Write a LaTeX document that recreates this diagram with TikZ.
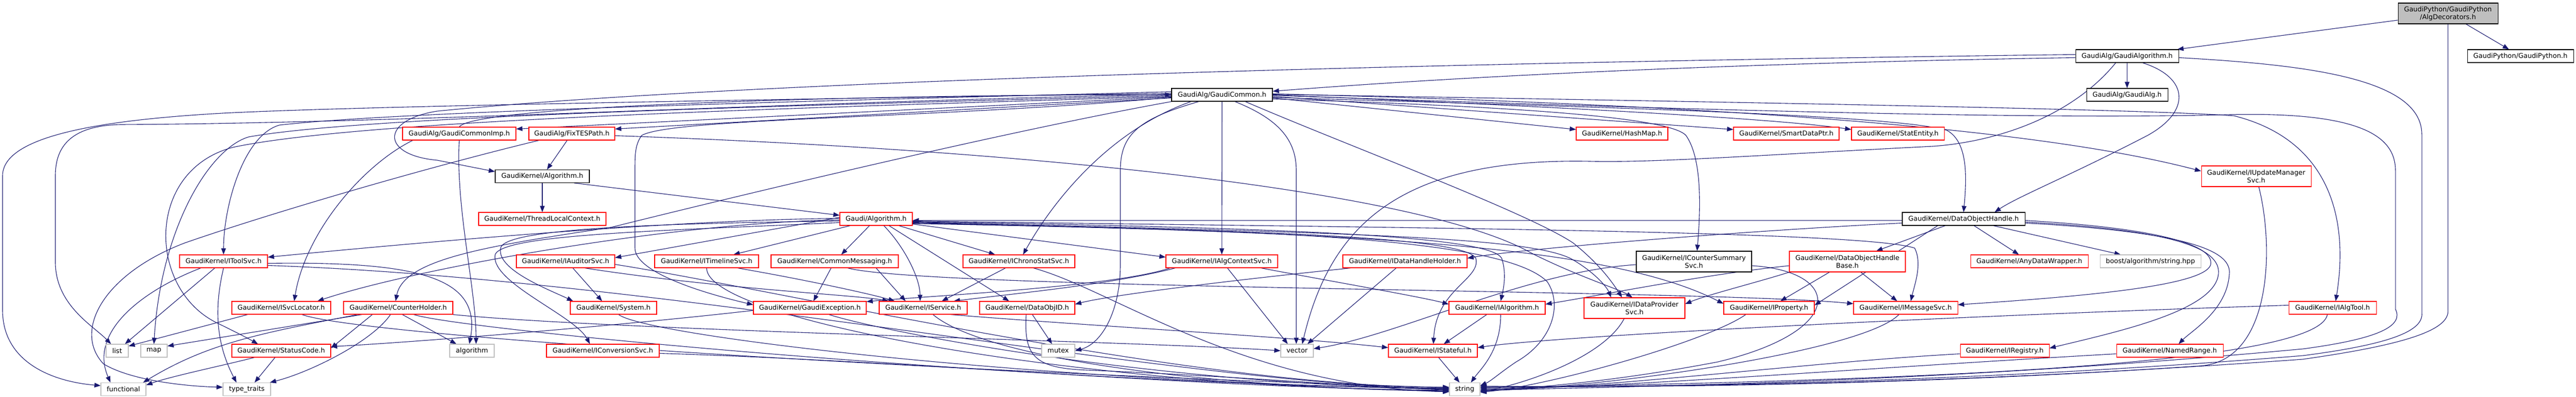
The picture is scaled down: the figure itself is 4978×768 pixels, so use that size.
\documentclass[tikz,border=0pt]{standalone}
\usepackage{fontspec}
\setmainfont{DejaVu Sans}
\usetikzlibrary{arrows.meta}
\pgfdeclarelayer{edges}
\pgfsetlayers{edges,main}
\definecolor{edgec}{HTML}{191970}
\definecolor{grayb}{HTML}{BFBFBF}
\begin{document}
\begin{tikzpicture}[x=1pt,y=-1pt,
  box/.style={draw, line width=1.1pt, fill=white, minimum height=25pt, inner sep=0pt, align=center, font={\fontsize{12.9pt}{15pt}\selectfont}},
  rb/.style={box, draw=red},
  kb/.style={box, draw=black},
  gb/.style={box, draw=grayb},
  two/.style={minimum height=40pt},
  e/.style={draw=edgec, line width=1.1pt, -{Triangle[length=12pt,width=9pt]}}]
\useasboundingbox (0,0) rectangle (4978,768);
% ---------------- nodes ----------------
\node[kb, fill=grayb, two, minimum width=193pt] (root) at (4730.5,26) {GaudiPython/GaudiPython\\/AlgDecorators.h};
\node[kb, minimum width=199pt] (galgo) at (4110.5,108.5) {GaudiAlg/GaudiAlgorithm.h};
\node[kb, minimum width=205pt] (gpy) at (4870.5,108.5) {GaudiPython/GaudiPython.h};
\node[kb, minimum width=195pt] (gcommon) at (2361.5,183.5) {GaudiAlg/GaudiCommon.h};
\node[kb, minimum width=157pt] (galg) at (4110.5,183.5) {GaudiAlg/GaudiAlg.h};
\node[rb, minimum width=219pt] (gcimp) at (887.5,258.5) {GaudiAlg/GaudiCommonImp.h};
\node[rb, minimum width=166pt] (fixtes) at (1105,258.5) {GaudiAlg/FixTESPath.h};
\node[rb, minimum width=177pt] (hashmap) at (3134.5,258.5) {GaudiKernel/HashMap.h};
\node[rb, minimum width=204pt] (sdp) at (3452,258.5) {GaudiKernel/SmartDataPtr.h};
\node[rb, minimum width=179pt] (statent) at (3667.5,258.5) {GaudiKernel/StatEntity.h};
\node[rb, two, minimum width=212pt] (iupd) at (4360,341) {GaudiKernel/IUpdateManager\\Svc.h};
\node[kb, minimum width=182pt] (kalgo) at (1048,341) {GaudiKernel/Algorithm.h};
\node[rb, minimum width=246pt] (tlc) at (1048,423.5) {GaudiKernel/ThreadLocalContext.h};
\node[rb, minimum width=140pt] (galgorithm) at (1693,423.5) {Gaudi/Algorithm.h};
\node[kb, minimum width=237pt] (doh) at (3794.5,423.5) {GaudiKernel/DataObjectHandle.h};
\node[rb, minimum width=170pt] (itoolsvc) at (432,505.5) {GaudiKernel/IToolSvc.h};
\node[rb, minimum width=190pt] (iauditor) at (1093,505.5) {GaudiKernel/IAuditorSvc.h};
\node[rb, minimum width=201pt] (itimeline) at (1365.5,505.5) {GaudiKernel/ITimelineSvc.h};
\node[rb, minimum width=246pt] (commsg) at (1613,505.5) {GaudiKernel/CommonMessaging.h};
\node[rb, minimum width=216pt] (ichrono) at (1969,505.5) {GaudiKernel/IChronoStatSvc.h};
\node[rb, minimum width=216pt] (ialgctx) at (2361,505.5) {GaudiKernel/IAlgContextSvc.h};
\node[rb, minimum width=240pt] (idhh) at (2715,505.5) {GaudiKernel/IDataHandleHolder.h};
\node[kb, two, minimum width=223pt] (icsum) at (3273.5,506) {GaudiKernel/ICounterSummary\\Svc.h};
\node[rb, two, minimum width=224pt] (dohb) at (3570,506) {GaudiKernel/DataObjectHandle\\Base.h};
\node[rb, minimum width=227pt] (anydw) at (3921.5,505.5) {GaudiKernel/AnyDataWrapper.h};
\node[gb, minimum width=195pt] (boost) at (4155.5,505.5) {boost/algorithm/string.hpp};
\node[rb, minimum width=191pt] (isvcloc) at (543.5,595.5) {GaudiKernel/ISvcLocator.h};
\node[rb, minimum width=211pt] (counterh) at (769.5,595.5) {GaudiKernel/CounterHolder.h};
\node[rb, minimum width=167pt] (system) at (1185.5,595.5) {GaudiKernel/System.h};
\node[rb, minimum width=218pt] (gexc) at (1565,595.5) {GaudiKernel/GaudiException.h};
\node[rb, minimum width=170pt] (iservice) at (1784,595.5) {GaudiKernel/IService.h};
\node[rb, minimum width=184pt] (dataobjid) at (1985,595.5) {GaudiKernel/DataObjID.h};
\node[rb, minimum width=186pt] (ialgorithm) at (2893,595.5) {GaudiKernel/IAlgorithm.h};
\node[rb, two, minimum width=195pt] (idps) at (3158.5,596) {GaudiKernel/IDataProvider\\Svc.h};
\node[rb, minimum width=175pt] (iprop) at (3418.5,595.5) {GaudiKernel/IProperty.h};
\node[rb, minimum width=201pt] (imsgsvc) at (3682.5,595.5) {GaudiKernel/IMessageSvc.h};
\node[rb, minimum width=169pt] (ialgtool) at (4507.5,595.5) {GaudiKernel/IAlgTool.h};
\node[gb, minimum width=43pt] (list) at (226.5,678.5) {list};
\node[gb, minimum width=51pt] (map) at (297.5,678.5) {map};
\node[rb, minimum width=191pt] (statuscode) at (543.5,678.5) {GaudiKernel/StatusCode.h};
\node[gb, minimum width=86pt] (algorithm) at (912,678.5) {algorithm};
\node[rb, minimum width=218pt] (iconv) at (1165,678.5) {GaudiKernel/IConversionSvc.h};
\node[gb, minimum width=64pt] (mutex) at (2045,678.5) {mutex};
\node[gb, minimum width=63pt] (vector) at (2506.5,678.5) {vector};
\node[rb, minimum width=172pt] (istateful) at (2769,678.5) {GaudiKernel/IStateful.h};
\node[rb, minimum width=172pt] (iregistry) at (3874,678.5) {GaudiKernel/IRegistry.h};
\node[rb, minimum width=206pt] (namedrange) at (4193,678.5) {GaudiKernel/NamedRange.h};
\node[gb, minimum width=87pt] (functional) at (238.5,753) {functional};
\node[gb, minimum width=92pt] (typetraits) at (477,753) {type\_traits};
\node[gb, minimum width=59pt] (string) at (2830.5,753) {string};
% ---------------- edges ----------------
\begin{pgfonlayer}{edges}
% root
\draw[e] ([yshift=-13pt]root.west) -- ([xshift=-3pt]galgo.north east);
\draw[e] (root) -- (gpy);
\draw[e] (root.south) -- (4730.5,600) .. controls (4734,640) and (4640,668) .. (4450,695) .. controls (3800,742) and (3300,748) .. ([yshift=5pt]string.east);
% GaudiAlgorithm.h
\draw[e] (galgo) -- (galg);
\draw[e] ([yshift=3pt]galgo.west) .. controls (3000,118) and (1500,150) .. (845,215) .. controls (735,232) and (735,300) .. (845,310) -- ([yshift=9pt]kalgo.west);
\draw[e] ([yshift=-3pt]galgo.west) .. controls (3300,123) and (2800,150) .. ([yshift=7pt]gcommon.east);
\draw[e] ([xshift=30pt]galgo.south) .. controls (4230,150) and (4235,215) .. (4150,262) .. controls (4000,340) and (3900,380) .. ([xshift=60pt]doh.north);
\draw[e] ([xshift=-22pt]galgo.south) .. controls (4000,230) and (3850,275) .. (3735,283) .. controls (3400,300) and (3200,315) .. (3072,312) .. controls (2700,305) and (2570,440) .. ([xshift=10pt]vector.north);
\draw[e] ([yshift=-3pt]galgo.east) .. controls (4450,125) and (4680,150) .. (4680,260) -- (4680,605) .. controls (4684,640) and (4620,666) .. (4450,688) .. controls (3800,740) and (3300,746) .. ([yshift=3pt]string.east);
% GaudiCommon.h
\draw[e] ([yshift=-4pt]gcommon.west) -- ([yshift=9pt]gcimp.east);
\draw[e] ([yshift=-6pt]gcommon.west) -- ([yshift=9pt]fixtes.east);
\draw[e] ([yshift=-6pt]gcommon.east) -- ([yshift=8pt]hashmap.west);
\draw[e] ([yshift=-3pt]gcommon.east) -- ([yshift=8pt]sdp.west);
\draw[e] (gcommon.east) .. controls (3100,210) and (3450,232) .. ([yshift=8pt]statent.west);
\draw[e] ([yshift=2pt]gcommon.east) .. controls (3200,200) and (3900,238) .. ([yshift=10pt]iupd.west);
\draw[e] ([yshift=-8pt]gcommon.east) .. controls (2900,205) and (3225,225) .. (3258,262) .. controls (3292,310) and (3285,420) .. ([xshift=6pt]icsum.north);
\draw[e] ([yshift=-5pt]gcommon.east) .. controls (3000,205) and (3650,220) .. (3762,252) .. controls (3805,275) and (3800,350) .. (doh.north);
\draw[e] ([yshift=1pt]gcommon.east) .. controls (3500,200) and (4150,212) .. (4317,224) .. controls (4500,270) and (4540,420) .. ([xshift=6pt]ialgtool.north);
\draw[e] ([yshift=-1pt]gcommon.east) .. controls (3200,210) and (3900,232) .. (4300,222) .. controls (4560,215) and (4629,262) .. (4629,330) -- (4629,598) .. controls (4645,630) and (4600,655) .. (4450,675) .. controls (3800,735) and (3300,745) .. ([yshift=-2pt]string.east);
\draw[e] (gcommon) -- (ialgctx);
\draw[e] ([xshift=45pt]gcommon.south) .. controls (2600,280) and (2950,410) .. (3040,470) .. controls (3090,510) and (3115,545) .. ([xshift=-24pt]idps.north);
\draw[e] ([xshift=25pt]gcommon.south) .. controls (2470,230) and (2505,270) .. (2505,330) -- ([xshift=-1.5pt]vector.north);
\draw[e] ([xshift=-45pt]gcommon.south) .. controls (2200,230) and (2165,260) .. (2165,330) -- (2165,512) .. controls (2165,600) and (2130,665) .. (mutex.east);
\draw[e] ([xshift=-60pt]gcommon.south) .. controls (2150,250) and (2040,380) .. ([xshift=8pt]ichrono.north);
\draw[e] (gcommon.south west) .. controls (1900,262) and (1300,410) .. (1180,440) .. controls (950,475) and (780,500) .. ([xshift=-5pt]counterh.north);
\draw[e] ([yshift=6pt]gcommon.west) .. controls (1800,190) and (800,212) .. (540,242) .. controls (470,262) and (432,400) .. (itoolsvc.north);
\draw[e] ([yshift=3pt]gcommon.west) .. controls (1500,192) and (700,205) .. (430,219) .. controls (200,232) and (5,262) .. (5,340) -- (5,600) .. controls (5,700) and (100,738) .. ([yshift=7pt]functional.west);
\draw[e] ([yshift=1pt]gcommon.west) .. controls (1500,198) and (800,238) .. (233,241) .. controls (130,243) and (107,290) .. (107,340) -- (107,507) .. controls (107,590) and (180,630) .. ([xshift=-12pt]list.north);
\draw[e] ([yshift=-1pt]gcommon.west) .. controls (1500,205) and (700,225) .. (480,265) .. controls (400,290) and (310,450) .. (map.north);
\draw[e] ([yshift=-3pt]gcommon.west) .. controls (1500,210) and (700,232) .. (450,285) .. controls (280,330) and (285,560) .. (420,625) .. controls (455,642) and (480,655) .. ([xshift=-45pt]statuscode.north);
\draw[e] ([yshift=-5pt]gcommon.west) .. controls (1800,230) and (1300,228) .. (1240,262) .. controls (1227,280) and (1227,300) .. (1227,330) -- (1227,480) .. controls (1227,525) and (1350,565) .. ([yshift=6pt]gexc.west);
% GaudiCommonImp.h
\draw[e] (gcimp.north) .. controls (920,200) and (1800,182) .. (gcommon.west);
\draw[e] ([xshift=20pt]gcimp.south west) .. controls (700,320) and (590,450) .. ([xshift=25pt]isvcloc.north);
\draw[e] (gcimp.south) .. controls (880,400) and (920,560) .. ([xshift=8pt]algorithm.north);
% FixTESPath.h
\draw[e] (fixtes) -- (kalgo);
\draw[e] ([xshift=20pt]fixtes.south west) .. controls (800,330) and (500,420) .. (357,470) .. controls (200,530) and (140,640) .. (200,704) .. controls (260,740) and (380,748) .. ([yshift=4pt]typetraits.west);
\draw[e] ([yshift=-4pt]fixtes.east) .. controls (2000,290) and (2750,370) .. (2960,490) .. controls (3050,535) and (3130,560) .. ([xshift=-4pt]idps.north);
% GaudiKernel/Algorithm.h
\draw[e] (kalgo) -- (tlc);
\draw[e] ([xshift=-30pt]kalgo.south east) -- ([yshift=7pt]galgorithm.west);
% Gaudi/Algorithm.h
\draw[e] ([xshift=-50pt]galgorithm.south) -- ([xshift=52pt]itimeline.north);
\draw[e] (galgorithm) -- (commsg);
\draw[e] ([xshift=15pt]galgorithm.south) .. controls (1750,480) and (1778,540) .. ([xshift=-6pt]iservice.north);
\draw[e] ([xshift=25pt]galgorithm.south) -- ([xshift=-35pt]dataobjid.north);
\draw[e] ([xshift=44pt]galgorithm.south) -- ([xshift=-46pt]ichrono.north);
\draw[e] ([yshift=-10pt]galgorithm.east) -- ([yshift=8pt]ialgctx.west);
\draw[e] ([yshift=3pt]galgorithm.west) -- ([yshift=7pt]iauditor.east);
\draw[e] ([yshift=1pt]galgorithm.west) .. controls (1300,425) and (800,470) .. ([yshift=8pt]itoolsvc.east);
\draw[e] ([yshift=-2pt]galgorithm.west) .. controls (1300,430) and (800,520) .. ([xshift=70pt]isvcloc.north);
\draw[e] ([yshift=-4pt]galgorithm.west) .. controls (1300,432) and (985,440) .. (968,478) .. controls (955,520) and (1060,560) .. ([xshift=-78pt]system.north);
\draw[e] ([yshift=-7pt]galgorithm.west) .. controls (1300,446) and (975,452) .. (957,492) .. controls (945,545) and (1110,610) .. ([xshift=-25pt]iconv.north);
\draw[e] ([yshift=-4pt]galgorithm.east) .. controls (2600,440) and (3600,445) .. (3700,480) .. controls (3715,510) and (3700,550) .. ([xshift=10pt]imsgsvc.north);
\draw[e] ([yshift=-6pt]galgorithm.east) .. controls (2600,450) and (2950,458) .. (3035,500) .. controls (3080,525) and (3105,555) .. ([xshift=-45pt]idps.north);
\draw[e] ([yshift=-8pt]galgorithm.east) .. controls (2600,450) and (3100,470) .. ([yshift=8pt]iprop.west);
\draw[e] ([yshift=-5pt]galgorithm.east) .. controls (2400,440) and (2880,452) .. (2902,500) .. controls (2912,530) and (2905,560) .. ([xshift=7pt]ialgorithm.north);
\draw[e] ([yshift=-7pt]galgorithm.east) .. controls (2300,445) and (2830,452) .. (2852,500) .. controls (2862,540) and (2775,560) .. ([xshift=1pt]istateful.north);
\draw[e] ([yshift=-9pt]galgorithm.east) .. controls (2400,445) and (2900,455) .. (2990,545) .. controls (3020,590) and (3000,660) .. (2930,700) .. controls (2900,720) and (2880,738) .. ([yshift=7pt]string.east);
% DataObjectHandle.h
\draw[e] (doh) -- (dohb);
\draw[e] (doh) -- (anydw);
\draw[e] (doh) -- (boost);
\draw[e] ([yshift=-3pt]doh.west) -- ([yshift=-3pt]galgorithm.east);
\draw[e] ([yshift=-8pt]doh.west) .. controls (3400,445) and (2950,480) .. ([yshift=6pt]idhh.east);
\draw[e] ([xshift=-50pt]doh.south) -- ([yshift=5pt]iprop.east);
\draw[e] ([yshift=-3pt]doh.east) .. controls (4150,440) and (4280,470) .. (4272,512) .. controls (4260,555) and (4000,575) .. ([yshift=6pt]imsgsvc.east);
\draw[e] ([yshift=-6pt]doh.east) .. controls (4200,445) and (4292,480) .. (4287,530) .. controls (4280,600) and (4100,640) .. ([yshift=5pt]iregistry.east);
\draw[e] ([yshift=-8pt]doh.east) .. controls (4250,450) and (4312,490) .. (4308,530) .. controls (4304,600) and (4235,640) .. ([xshift=17pt]namedrange.north);
% IToolSvc.h
\draw[e] ([xshift=-17pt]itoolsvc.south) -- ([xshift=15pt]list.north);
\draw[e] ([xshift=-44pt]itoolsvc.south) .. controls (280,560) and (170,640) .. ([xshift=-25pt]functional.north);
\draw[e] (itoolsvc.south) .. controls (415,590) and (415,660) .. ([xshift=-20pt]typetraits.north);
\draw[e] ([yshift=-4pt]itoolsvc.east) .. controls (820,505) and (930,540) .. ([xshift=-5pt]algorithm.north);
\draw[e] ([yshift=-8pt]itoolsvc.east) .. controls (1300,540) and (2300,748) .. ([yshift=2pt]string.west);
% IAuditorSvc.h
\draw[e] ([xshift=14pt]iauditor.south) -- ([xshift=-22pt]system.north);
\draw[e] ([xshift=37pt]iauditor.south) .. controls (1400,560) and (1650,570) .. ([xshift=-67pt]iservice.north);
\draw[e] ([yshift=-6pt]iauditor.east) .. controls (1500,560) and (2300,748) .. ([yshift=4pt]string.west);
% ITimelineSvc.h
\draw[e] ([xshift=60pt]itimeline.south) .. controls (1550,540) and (1680,568) .. ([xshift=-55pt]iservice.north);
\draw[e] (itimeline.south) .. controls (1365,620) and (2100,750) .. ([yshift=-3pt]string.west);
% CommonMessaging.h
\draw[e] (commsg) -- (gexc);
\draw[e] ([xshift=80pt]commsg.south) -- ([xshift=-34pt]iservice.north);
\draw[e] ([xshift=25pt]commsg.south) .. controls (1800,560) and (3300,560) .. ([yshift=8pt]imsgsvc.west);
% IChronoStatSvc.h
\draw[e] ([xshift=-26pt]ichrono.south) -- ([xshift=36pt]iservice.north);
\draw[e] ([xshift=28pt]ichrono.south) .. controls (2150,560) and (2400,748) .. ([yshift=-5pt]string.west);
% IAlgContextSvc.h
\draw[e] ([xshift=11pt]ialgctx.south) -- ([xshift=-18pt]vector.north);
\draw[e] ([xshift=76pt]ialgctx.south) .. controls (2550,540) and (2750,575) .. ([yshift=7pt]ialgorithm.west);
\draw[e] ([xshift=-90pt]ialgctx.south) .. controls (2150,550) and (1960,568) .. ([xshift=59pt]iservice.north);
\draw[e] ([xshift=-100pt]ialgctx.south) .. controls (2150,555) and (1800,572) .. ([yshift=12pt]gexc.east);
% IDataHandleHolder.h
\draw[e] ([xshift=-105pt]idhh.south) .. controls (2400,540) and (2150,570) .. ([yshift=7pt]dataobjid.east);
\draw[e] ([xshift=-17pt]idhh.south) -- ([xshift=20pt]vector.north);
% ICounterSummarySvc.h
\draw[e] ([yshift=-8pt]icsum.east) .. controls (3560,525) and (3570,640) .. (3320,700) .. controls (3100,742) and (2950,750) .. ([yshift=-4pt]string.east);
\draw[e] ([yshift=-6pt]icsum.west) .. controls (2950,525) and (2700,650) .. ([yshift=4pt]vector.east);
% DataObjectHandleBase.h
\draw[e] (dohb) -- (iprop);
\draw[e] (dohb) -- (imsgsvc);
\draw[e] (dohb.south west) .. controls (3400,545) and (3300,570) .. ([yshift=8pt]idps.east);
\draw[e] ([yshift=-8pt]dohb.west) .. controls (3300,530) and (3100,570) .. ([yshift=7pt]ialgorithm.east);
% row 595 sources
\draw[e] ([xshift=-65pt]isvcloc.south) -- ([yshift=9pt]list.east);
\draw[e] ([xshift=40pt]isvcloc.south) .. controls (700,650) and (1800,720) .. ([yshift=3pt]string.west);
\draw[e] ([xshift=-70pt]counterh.south) -- ([yshift=9pt]map.east);
\draw[e] ([xshift=-78pt]counterh.south) .. controls (500,645) and (400,665) .. ([xshift=-6pt]functional.north east);
\draw[e] ([xshift=-15pt]counterh.south) .. controls (720,660) and (600,720) .. ([xshift=-2pt]typetraits.north east);
\draw[e] ([xshift=8pt]counterh.south) -- ([xshift=-30pt]algorithm.north);
\draw[e] ([xshift=-50pt]counterh.south) -- ([yshift=5pt]statuscode.east);
\draw[e] ([xshift=30pt]counterh.south) .. controls (900,640) and (2000,742) .. ([yshift=1pt]string.west);
\draw[e] (counterh.south east) .. controls (1200,640) and (2200,660) .. (vector.west);
\draw[e] ([xshift=10pt]system.south) .. controls (1250,650) and (2000,740) .. ([yshift=1pt]string.west);
\draw[e] ([yshift=-5pt]gexc.west) .. controls (1200,630) and (800,662) .. ([yshift=8pt]statuscode.east);
\draw[e] ([xshift=37pt]gexc.south) .. controls (1700,640) and (2200,740) .. (string.west);
\draw[e] ([xshift=53pt]iservice.south) .. controls (2100,630) and (2500,652) .. ([yshift=6pt]istateful.west);
\draw[e] ([xshift=19pt]iservice.south) .. controls (1900,690) and (2300,748) .. ([yshift=-4pt]string.west);
\draw[e] ([xshift=10pt]dataobjid.south) -- ([xshift=-12pt]mutex.north);
\draw[e] ([xshift=-2pt]dataobjid.south) .. controls (1978,690) and (2000,712) .. (2100,716) .. controls (2400,728) and (2650,750) .. ([yshift=-1pt]string.west);
\draw[e] ([xshift=-20pt]ialgorithm.south) -- ([xshift=21pt]istateful.north);
\draw[e] ([xshift=7pt]ialgorithm.south) .. controls (2900,680) and (2860,715) .. ([xshift=12pt]string.north);
\draw[e] ([xshift=-20pt]idps.south) .. controls (3100,690) and (2950,742) .. ([yshift=-5pt]string.east);
\draw[e] ([xshift=-45pt]iprop.south) .. controls (3300,660) and (3000,745) .. ([yshift=-6pt]string.east);
\draw[e] ([xshift=-13pt]imsgsvc.south) .. controls (3600,680) and (3100,750) .. ([yshift=-3pt]string.east);
\draw[e] ([xshift=-10pt]ialgtool.south) .. controls (4480,700) and (3800,735) .. ([yshift=3pt]string.east);
\draw[e] ([yshift=5pt]ialgtool.west) .. controls (3800,610) and (3000,650) .. ([yshift=6pt]istateful.east);
\draw[e] ([xshift=5pt]iupd.south) .. controls (4395,480) and (4390,700) .. (4250,708) .. controls (3700,745) and (3200,750) .. ([yshift=6pt]string.east);
% row 678 sources
\draw[e] ([yshift=-5pt]iconv.east) .. controls (1800,700) and (2300,750) .. ([yshift=-2pt]string.west);
\draw[e] ([xshift=-52pt]statuscode.south) .. controls (440,705) and (330,728) .. ([yshift=8pt]functional.east);
\draw[e] ([xshift=-12pt]statuscode.south) -- ([xshift=15pt]typetraits.north);
\draw[e] ([xshift=11pt]istateful.south) -- ([xshift=-10pt]string.north);
\draw[e] ([yshift=-6pt]iregistry.west) .. controls (3500,700) and (3100,752) .. ([yshift=-1pt]string.east);
\draw[e] ([yshift=-6pt]namedrange.west) .. controls (3600,712) and (3100,752) .. ([yshift=1pt]string.east);
\end{pgfonlayer}
\end{tikzpicture}
\end{document}
